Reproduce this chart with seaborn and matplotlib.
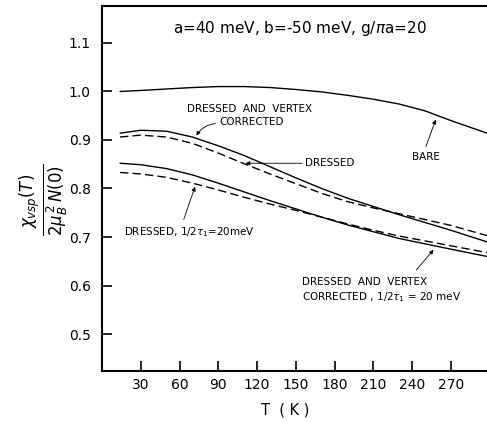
import matplotlib
matplotlib.use("Agg")
import matplotlib.pyplot as plt
import pandas as pd
import seaborn as sns

# temperatures (K)
temps = [14, 30, 50, 70, 90, 110, 130, 150, 170, 190, 210, 230, 250, 270, 298]

bare = [1.000, 1.002, 1.005, 1.008, 1.010, 1.010, 1.008, 1.004, 0.999, 0.992,
        0.984, 0.974, 0.960, 0.940, 0.914]
dressed_vertex = [0.914, 0.920, 0.918, 0.906, 0.888, 0.868, 0.845, 0.822, 0.800, 0.780,
                  0.763, 0.746, 0.730, 0.714, 0.690]
dressed = [0.906, 0.910, 0.906, 0.893, 0.873, 0.851, 0.830, 0.810, 0.790, 0.773,
           0.760, 0.748, 0.736, 0.724, 0.703]
dressed_vertex_tau = [0.852, 0.849, 0.841, 0.828, 0.811, 0.793, 0.775, 0.758, 0.741, 0.725,
                      0.711, 0.697, 0.686, 0.675, 0.660]
dressed_tau = [0.833, 0.830, 0.823, 0.811, 0.797, 0.782, 0.768, 0.755, 0.741, 0.727,
               0.714, 0.702, 0.692, 0.682, 0.668]

y_ticks = [0.5, 0.6, 0.7, 0.8, 0.9, 1.0, 1.1]
x_ticks = [30, 60, 90, 120, 150, 180, 210, 240, 270]

sns.set_style("ticks")
plt.rcParams['font.family'] = ['DejaVu Sans']
plt.rcParams['text.color'] = 'black'
plt.rcParams['xtick.color'] = 'black'
plt.rcParams['ytick.color'] = 'black'
plt.rcParams['axes.edgecolor'] = 'black'

fig = plt.figure(figsize=(4.87, 4.23), dpi=100)
ax = fig.add_axes([102/487, 52/423, 1 - 102/487, 365/423])

curves = [(bare, '-'), (dressed_vertex, '-'), (dressed, '--'),
          (dressed_vertex_tau, '-'), (dressed_tau, '--')]
for vals, ls in curves:
  d = pd.DataFrame({'T': temps, 'chi': vals})
  sns.lineplot(data=d, x='T', y='chi', color='black', lw=1.0, ax=ax)
  l = ax.lines[-1]
  if ls == '--':
    l.set_dashes((6, 3))

ax.set_xlim(0, 298)
ax.set_ylim(0.424, 1.176)
ax.set_xticks(x_ticks)
ax.set_yticks(y_ticks)
ax.set_xticklabels([str(t) for t in x_ticks])
ax.set_yticklabels(['%.1f' % v for v in y_ticks])
ax.tick_params(direction='in', length=7, width=1.2, labelsize=10, color='black', labelcolor='black')
ax.tick_params(axis='y', pad=8)
ax.tick_params(axis='x', pad=5)
for s in ['left', 'bottom', 'top']:
  ax.spines[s].set_linewidth(1.5)
ax.spines['right'].set_visible(False)
ax.set_xlabel('')
ax.set_ylabel('')

ax.text(153, 1.129, r'a=40 meV, b=-50 meV, g/$\pi$a=20', ha='center', va='center', fontsize=11)

fs = 7.5
arr = dict(arrowstyle='-|>', color='black', lw=0.6, mutation_scale=6)
ax.text(114, 0.963, 'DRESSED  AND  VERTEX', ha='center', va='center', fontsize=fs)
ax.text(116, 0.936, 'CORRECTED', ha='center', va='center', fontsize=fs)
ax.annotate('', xy=(72, 0.904), xytext=(90, 0.934),
            arrowprops=dict(arr, connectionstyle='arc3,rad=0.3'))

ax.text(157, 0.852, 'DRESSED', ha='left', va='center', fontsize=fs)
ax.annotate('', xy=(109, 0.852), xytext=(157, 0.852), arrowprops=arr)

ax.text(251, 0.865, 'BARE', ha='center', va='center', fontsize=fs)
ax.annotate('', xy=(259, 0.947), xytext=(250, 0.881), arrowprops=arr)

ax.text(17, 0.710, r'DRESSED, 1/2$\tau_1$=20meV', ha='left', va='center', fontsize=fs)
ax.annotate('', xy=(72.7, 0.809), xytext=(62.6, 0.731), arrowprops=arr)

ax.text(155, 0.608, 'DRESSED  AND  VERTEX', ha='left', va='center', fontsize=fs)
ax.text(154.6, 0.577, r'CORRECTED , 1/2$\tau_1$ = 20 meV', ha='left', va='center', fontsize=fs)
ax.annotate('', xy=(258, 0.678), xytext=(242, 0.628), arrowprops=arr)

fig.text(45/487, 1 - 200/423, r'$\frac{\chi_{vsp}(T)}{2\mu_B^{\,2}\,N(0)}$',
         rotation=90, ha='center', va='center', fontsize=17)
fig.text(285/487, 1 - 410/423, 'T  ( K )', ha='center', va='center', fontsize=10.5)

fig.savefig('out.png', dpi=100)
